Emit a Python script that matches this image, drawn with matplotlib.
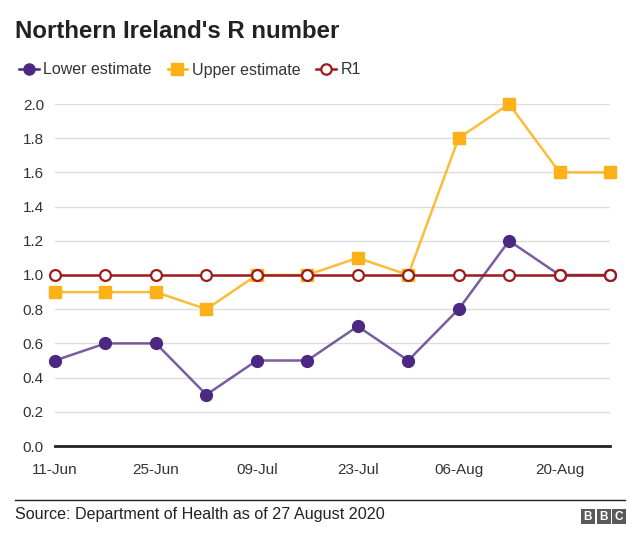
import matplotlib
matplotlib.use('Agg')
import matplotlib.pyplot as plt
from matplotlib.lines import Line2D
from matplotlib.patches import Rectangle

plt.rcParams['font.family'] = ['Liberation Sans', 'DejaVu Sans']

# Dados semanais (11-Jun a 27-Aug)
weeks = ['11-Jun', '18-Jun', '25-Jun', '02-Jul', '09-Jul', '16-Jul',
         '23-Jul', '30-Jul', '06-Aug', '13-Aug', '20-Aug', '27-Aug']
lower = [0.5, 0.6, 0.6, 0.3, 0.5, 0.5, 0.7, 0.5, 0.8, 1.2, 1.0, 1.0]
upper = [0.9, 0.9, 0.9, 0.8, 1.0, 1.0, 1.1, 1.0, 1.8, 2.0, 1.6, 1.6]
r1 = [1.0] * 12
y_ticks = [0.0, 0.2, 0.4, 0.6, 0.8, 1.0, 1.2, 1.4, 1.6, 1.8, 2.0]

c_low = '#4b2882'
c_up = '#fbb117'
c_r1 = '#9c1c1c'

fig = plt.figure(figsize=(6.4, 5.44), dpi=100)
ax = fig.add_axes([55 / 640, 98 / 544, 555 / 640, 342 / 544])

x = list(range(len(weeks)))

# linhas (um pouco transparentes) e marcadores por cima
ax.plot(x, lower, color=c_low, linewidth=1.8, alpha=0.75, zorder=3, clip_on=False)
ax.plot(x, lower, linestyle='none', marker='o', markersize=8.5,
        color=c_low, zorder=4, clip_on=False)
ax.plot(x, upper, color=c_up, linewidth=1.8, alpha=0.85, zorder=5, clip_on=False)
ax.plot(x, upper, linestyle='none', marker='s', markersize=8,
        color=c_up, zorder=6, clip_on=False)
ax.plot(x, r1, color=c_r1, linewidth=1.8, zorder=7, clip_on=False)
ax.plot(x, r1, linestyle='none', marker='o', markersize=7.8, markerfacecolor='white',
        markeredgecolor=c_r1, markeredgewidth=1.6, zorder=8, clip_on=False)

ax.set_xlim(0, len(weeks) - 1)
ax.set_ylim(0, 2.0)
ax.set_yticks(y_ticks)
ax.set_yticklabels([f'{v:.1f}' for v in y_ticks])
ax.set_xticks(x[::2])
ax.set_xticklabels(weeks[::2])

ax.grid(axis='y', color='#dcdcdc', linewidth=1)
ax.set_axisbelow(True)
for s in ['top', 'right', 'left']:
    ax.spines[s].set_visible(False)
ax.spines['bottom'].set_color('#222222')
ax.spines['bottom'].set_linewidth(2)
ax.tick_params(axis='both', length=0, labelsize=11, colors='#333333')
ax.tick_params(axis='y', pad=8)
ax.tick_params(axis='x', pad=12)

# título
fig.text(15 / 640, 1 - 32 / 544, "Northern Ireland's R number", fontsize=17.3,
         fontweight='bold', color='#222222', va='center', ha='left')

# legenda manual
handles = [
    Line2D([], [], color=c_low, marker='o', markersize=8, linewidth=1.8),
    Line2D([], [], color=c_up, marker='s', markersize=8, linewidth=1.8),
    Line2D([], [], color=c_r1, marker='o', markersize=7.5, markerfacecolor='white',
           markeredgewidth=1.6, linewidth=1.8),
]
fig.legend(handles, ['Lower estimate', 'Upper estimate', 'R1'], loc='center left',
           bbox_to_anchor=(5 / 640, 1 - 70 / 544), ncol=3, frameon=False,
           fontsize=11.5, handlelength=1.2, handletextpad=0.3, columnspacing=1.0,
           labelcolor='#333333')

# rodapé
fig.add_artist(Line2D([15 / 640, 625 / 640], [1 - 500 / 544, 1 - 500 / 544],
                      color='#222222', linewidth=1))
fig.text(15 / 640, 1 - 514 / 544, 'Source: Department of Health as of 27 August 2020',
         fontsize=11.6, color='#222222', va='center', ha='left')

# logo BBC
for i, letter in enumerate('BBC'):
    x0 = 581 + i * 15.5
    fig.add_artist(Rectangle((x0 / 640, 1 - 524 / 544), 14 / 640, 15 / 544,
                             facecolor='#5a5a5a', edgecolor='none'))
    fig.text((x0 + 7) / 640, 1 - 516.5 / 544, letter, fontsize=8.5, fontweight='bold',
             color='white', ha='center', va='center')

fig.savefig('out.png', dpi=100)
